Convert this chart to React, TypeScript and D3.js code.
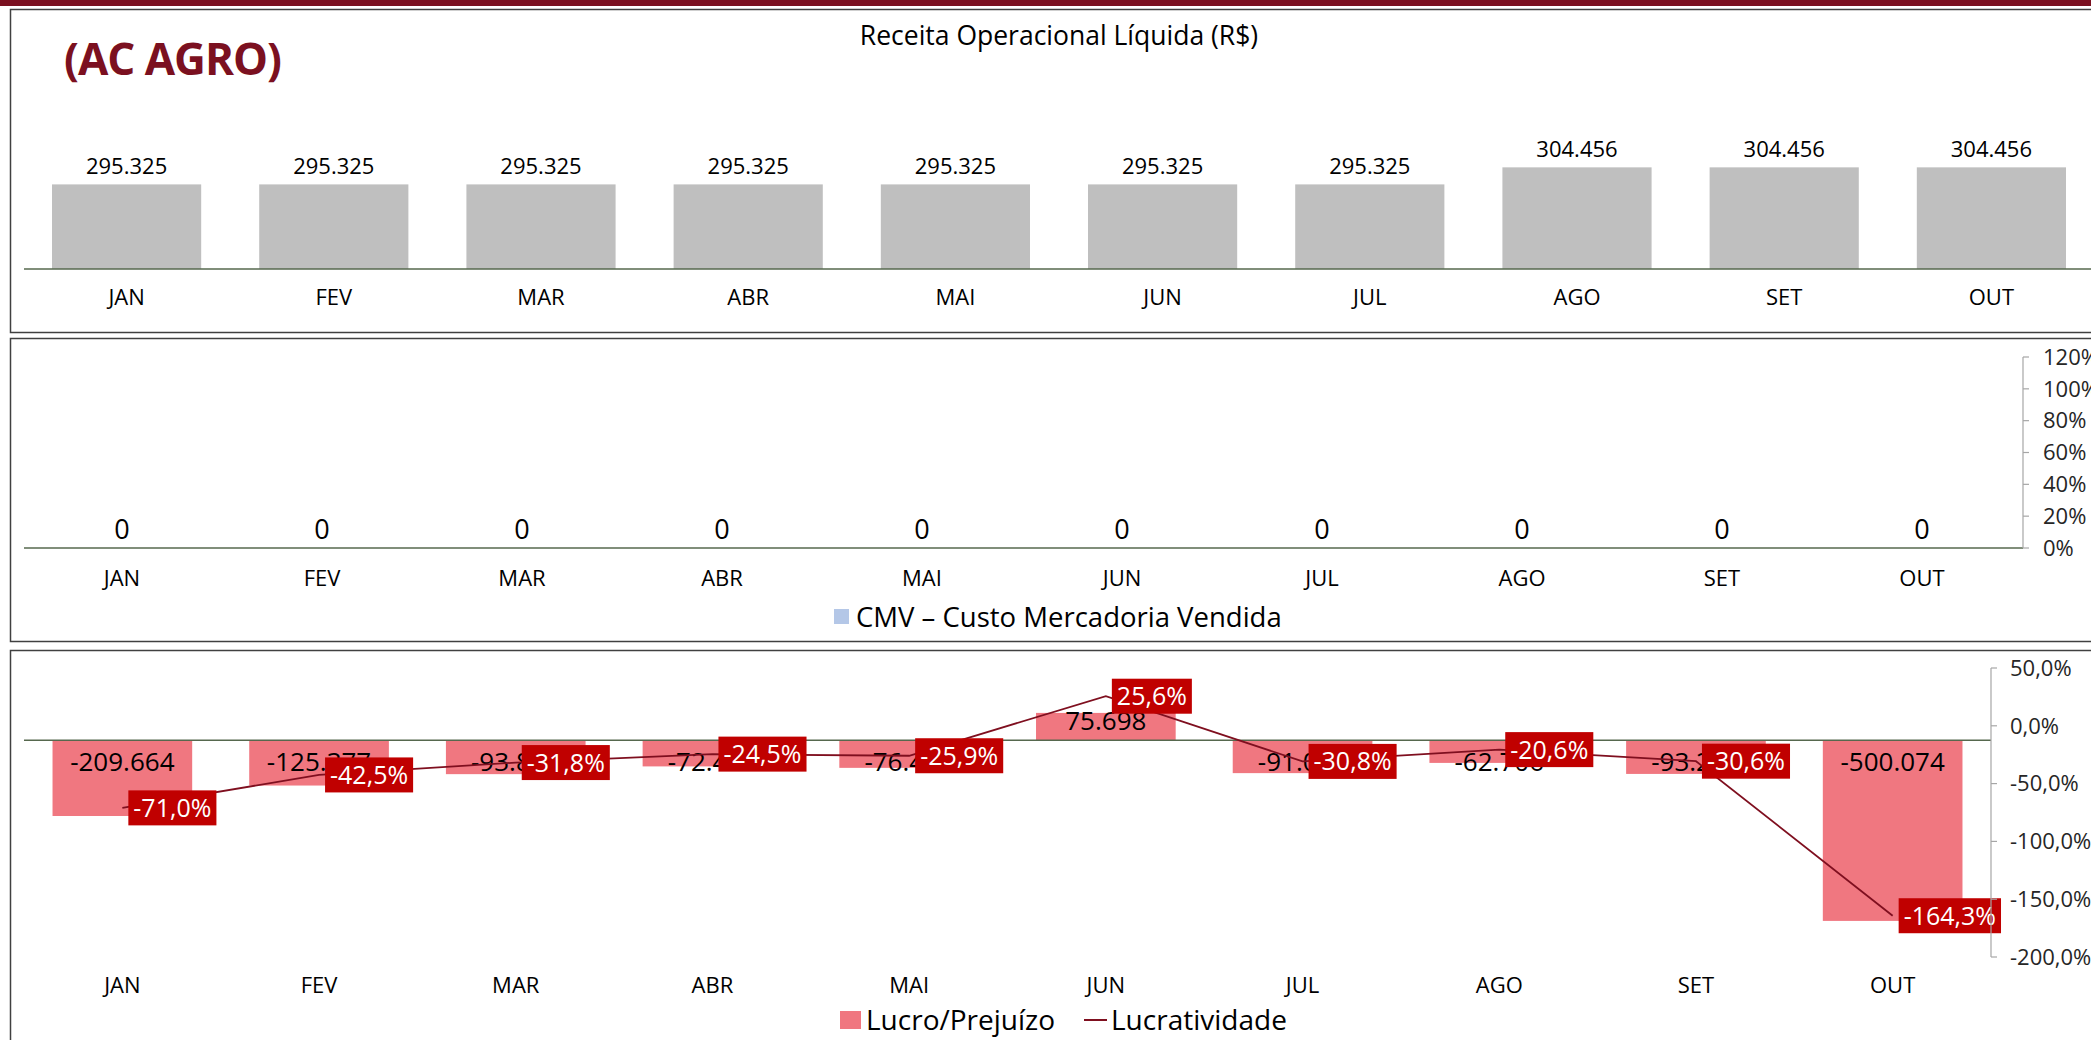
import * as d3 from "d3";

// ---- data ----
const months = ["JAN", "FEV", "MAR", "ABR", "MAI", "JUN", "JUL", "AGO", "SET", "OUT"];
const receita = [295325, 295325, 295325, 295325, 295325, 295325, 295325, 304456, 304456, 304456];
const cmv = [0, 0, 0, 0, 0, 0, 0, 0, 0, 0];
const lucro = [-209664, -125377, -93851, -72412, -76418, 75698, -91012, -62706, -93215, -500074];
const lucratividade = [-0.71, -0.425, -0.318, -0.245, -0.259, 0.256, -0.308, -0.206, -0.306, -1.643];
const cmvPctTicks = [0, 0.2, 0.4, 0.6, 0.8, 1.0, 1.2];
const lucroPctTicks = [0.5, 0, -0.5, -1.0, -1.5, -2.0];

const W = 2091;
const H = 1040;
const FONT = "'Open Sans', sans-serif";
const DARK_RED = "#7B1020";
const AXIS_LINE = "#56684E";

const br = d3.formatLocale({ decimal: ",", thousands: ".", grouping: [3], currency: ["R$", ""], minus: "-" });
const fmtInt = br.format(",.0f");
const fmtPct0 = br.format(".0%");
const fmtPct1 = br.format(".1%");

let ctx: CanvasRenderingContext2D | null = null;
function textWidth(s: string, size: number) {
  if (!ctx) ctx = document.createElement("canvas").getContext("2d");
  if (!ctx) return s.length * size * 0.55;
  ctx.font = `${size}px 'Open Sans'`;
  return ctx.measureText(s).width;
}

export default function App() {
  // ---- panel 1: receita ----
  const x1 = d3.scaleBand<string>().domain(months).range([23, 2095]).paddingInner(0.28).paddingOuter(0.14);
  const y1 = d3.scaleLinear().domain([250000, 310000]).range([269, 157]);

  // ---- panel 2: CMV ----
  const x2 = d3.scaleBand<string>().domain(months).range([22, 2022]).paddingInner(0.3).paddingOuter(0.15);
  const y2 = d3.scaleLinear().domain([0, 1]).range([548, 380]);
  const y2pct = d3.scaleLinear().domain([0, 1.2]).range([548, 357]);

  // ---- panel 3: lucro ----
  const x3 = d3.scaleBand<string>().domain(months).range([24, 1991]).paddingInner(0.29).paddingOuter(0.145);
  const y3 = d3.scaleLinear().domain([-600000, 200000]).range([957, 668]);
  const y3pct = d3.scaleLinear().domain([-2, 0.5]).range([957, 668]);

  const cx3 = (m: string) => (x3(m) as number) + x3.bandwidth() / 2;
  const line = d3
    .line<number>()
    .x((_, i) => cx3(months[i]))
    .y(d => y3pct(d));

  return (
    <div style={{ position: "fixed", left: 0, top: 0, width: W, height: H, background: "#fff" }}>
      <svg width={W} height={H} style={{ display: "block", fontFamily: FONT }}>
        <rect x={0} y={0} width={W} height={6} fill={DARK_RED} />

        {/* ================= PANEL 1 ================= */}
        <rect x={10.5} y={9.5} width={W + 20} height={323} fill="#fff" stroke="#404040" strokeWidth={1.5} />
        <text x={64} y={75} fontSize={44} fontWeight={700} fill={DARK_RED} letterSpacing={-1}>
          (AC AGRO)
        </text>
        <text x={1059} y={45} fontSize={26.5} textAnchor="middle" fill="#000">
          Receita Operacional Líquida (R$)
        </text>
        {receita.map((v, i) => (
          <g key={i}>
            <rect x={x1(months[i])} y={y1(v)} width={x1.bandwidth()} height={y1(250000) - y1(v)} fill="#BFBFBF" />
            <text
              x={(x1(months[i]) as number) + x1.bandwidth() / 2}
              y={y1(v) - 10}
              fontSize={22}
              textAnchor="middle"
              fill="#000"
            >
              {fmtInt(v)}
            </text>
            <text
              x={(x1(months[i]) as number) + x1.bandwidth() / 2}
              y={305}
              fontSize={22}
              textAnchor="middle"
              fill="#000"
            >
              {months[i]}
            </text>
          </g>
        ))}
        <line x1={24} x2={W} y1={y1(250000)} y2={y1(250000)} stroke={AXIS_LINE} strokeWidth={1.5} />

        {/* ================= PANEL 2 ================= */}
        <rect x={10.5} y={338.5} width={W + 20} height={303} fill="#fff" stroke="#404040" strokeWidth={1.5} />
        {cmv.map((v, i) => (
          <g key={i}>
            <rect x={x2(months[i])} y={y2(v)} width={x2.bandwidth()} height={y2(0) - y2(v)} fill="#B4C7E7" />
            <text
              x={(x2(months[i]) as number) + x2.bandwidth() / 2}
              y={y2(v) - 9}
              fontSize={27}
              textAnchor="middle"
              fill="#000"
            >
              {fmtInt(v)}
            </text>
            <text
              x={(x2(months[i]) as number) + x2.bandwidth() / 2}
              y={586}
              fontSize={22}
              textAnchor="middle"
              fill="#000"
            >
              {months[i]}
            </text>
          </g>
        ))}
        <line x1={24} x2={2023} y1={y2(0)} y2={y2(0)} stroke={AXIS_LINE} strokeWidth={1.5} />
        <line x1={2023} x2={2023} y1={y2pct(1.2)} y2={y2pct(0)} stroke="#A6A6A6" strokeWidth={1.2} />
        {cmvPctTicks.map(t => (
          <g key={t}>
            <line x1={2023} x2={2029} y1={y2pct(t)} y2={y2pct(t)} stroke="#A6A6A6" strokeWidth={1.2} />
            <text x={2043} y={y2pct(t)} dy="0.35em" fontSize={22} fill="#262626">
              {fmtPct0(t)}
            </text>
          </g>
        ))}
        <rect x={834} y={609} width={15} height={15} fill="#B4C7E7" />
        <text x={856} y={617} dy="0.35em" fontSize={27.5} fill="#000">
          CMV – Custo Mercadoria Vendida
        </text>

        {/* ================= PANEL 3 ================= */}
        <rect x={10.5} y={650.5} width={W + 20} height={H} fill="#fff" stroke="#404040" strokeWidth={1.5} />
        {lucro.map((v, i) => (
          <rect
            key={i}
            x={x3(months[i])}
            y={Math.min(y3(v), y3(0))}
            width={x3.bandwidth()}
            height={Math.abs(y3(v) - y3(0))}
            fill="#F07780"
          />
        ))}
        <line x1={24} x2={1991} y1={y3(0)} y2={y3(0)} stroke={AXIS_LINE} strokeWidth={1.5} />
        {lucro.map((v, i) => (
          <text
            key={i}
            x={cx3(months[i])}
            y={y3(0) + (v < 0 ? 22 : -19)}
            dy="0.35em"
            fontSize={26}
            textAnchor="middle"
            fill="#000"
          >
            {fmtInt(v)}
          </text>
        ))}
        <path d={line(lucratividade) || ""} fill="none" stroke="#7F0F1F" strokeWidth={1.8} />
        {lucratividade.map((v, i) => {
          const label = fmtPct1(v);
          const w = textWidth(label, 25) + 10;
          const px = cx3(months[i]);
          const py = y3pct(v);
          return (
            <g key={i}>
              <rect x={px + 6} y={py - 17.5} width={w} height={35} fill="#C00000" />
              <text x={px + 6 + w / 2} y={py} dy="0.36em" fontSize={25} textAnchor="middle" fill="#fff">
                {label}
              </text>
            </g>
          );
        })}
        {months.map(m => (
          <text key={m} x={cx3(m)} y={993} fontSize={22} textAnchor="middle" fill="#000">
            {m}
          </text>
        ))}
        <line x1={1991} x2={1991} y1={y3pct(0.5)} y2={y3pct(-2)} stroke="#A6A6A6" strokeWidth={1.2} />
        {lucroPctTicks.map(t => (
          <g key={t}>
            <line x1={1991} x2={1997} y1={y3pct(t)} y2={y3pct(t)} stroke="#A6A6A6" strokeWidth={1.2} />
            <text x={2010} y={y3pct(t)} dy="0.35em" fontSize={22} fill="#262626">
              {fmtPct1(t)}
            </text>
          </g>
        ))}
        <rect x={840} y={1011} width={21} height={18} fill="#F07780" />
        <text x={866} y={1020} dy="0.35em" fontSize={28} fill="#000">
          Lucro/Prejuízo
        </text>
        <line x1={1084} x2={1107} y1={1020} y2={1020} stroke="#7F0F1F" strokeWidth={2} />
        <text x={1111} y={1020} dy="0.35em" fontSize={28} fill="#000">
          Lucratividade
        </text>
      </svg>
    </div>
  );
}
